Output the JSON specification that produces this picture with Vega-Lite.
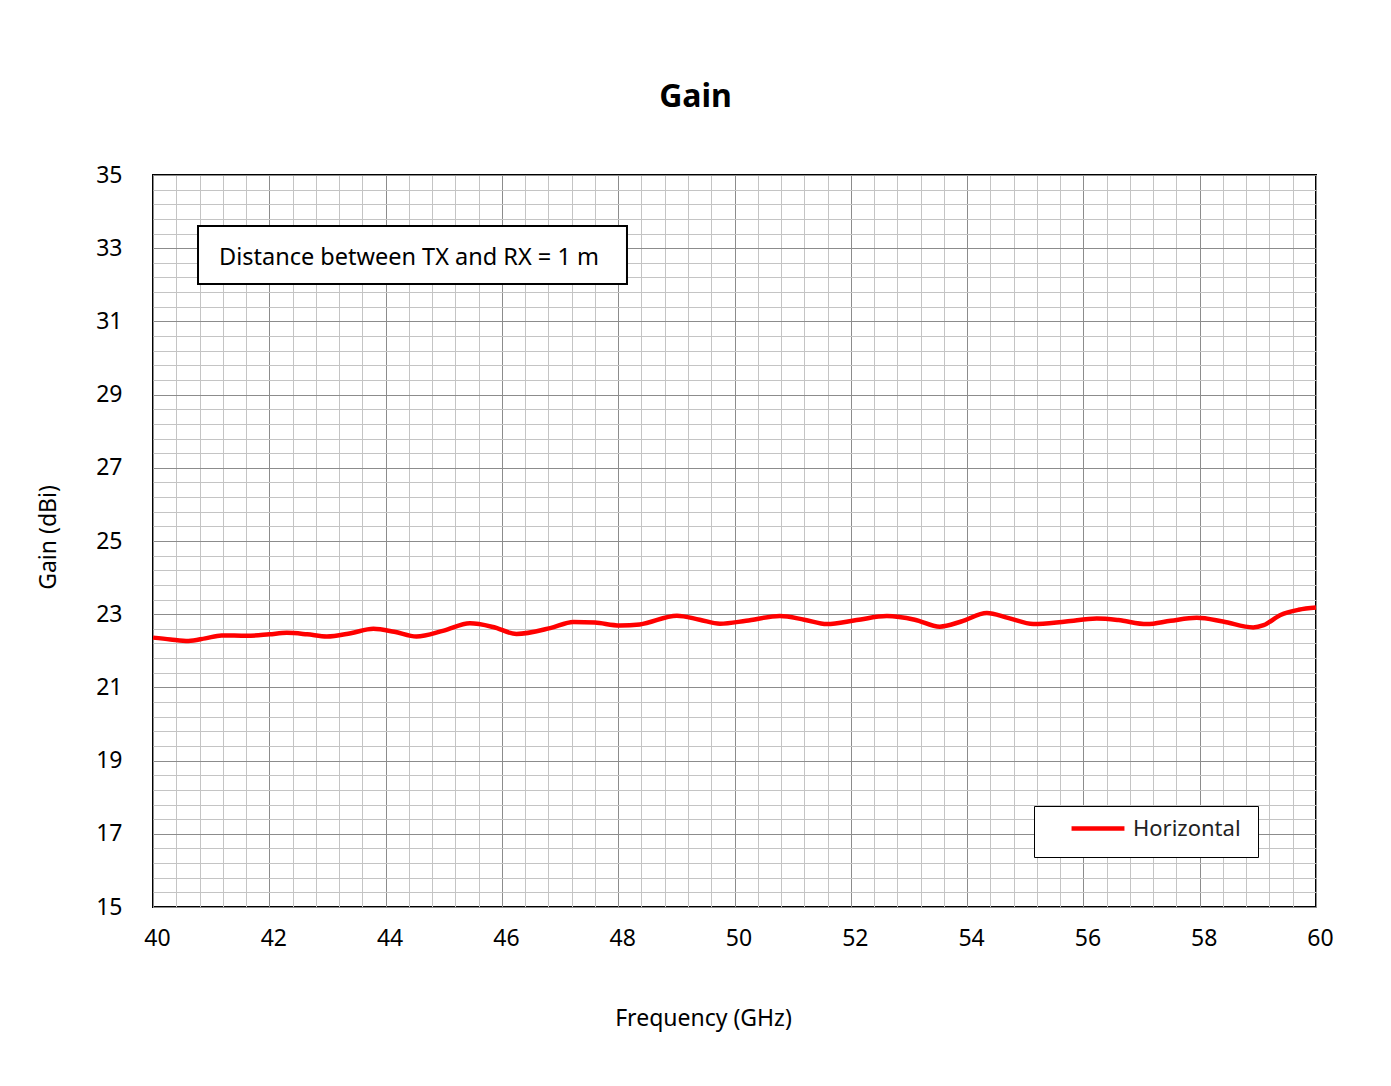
{
  "$schema": "https://vega.github.io/schema/vega-lite/v6.json",
  "width": 1163,
  "height": 732,
  "autosize": {"type": "none"},
  "padding": {"left": 153, "top": 175, "right": 75, "bottom": 179},
  "background": "white",
  "config": {
    "view": {"stroke": "black", "strokeWidth": 2},
    "font": "Noto Sans"
  },
  "title": {
    "text": "Gain",
    "fontSize": 32,
    "fontWeight": "bold",
    "font": "Noto Sans",
    "color": "black",
    "anchor": "middle",
    "baseline": "alphabetic",
    "offset": 25,
    "dx": -39
  },
  "datasets": {
    "gain": [
      {"f": 40.0, "gain": 22.36, "series": "Horizontal"},
      {"f": 40.3, "gain": 22.31, "series": "Horizontal"},
      {"f": 40.61, "gain": 22.27, "series": "Horizontal"},
      {"f": 40.9, "gain": 22.34, "series": "Horizontal"},
      {"f": 41.18, "gain": 22.42, "series": "Horizontal"},
      {"f": 41.61, "gain": 22.41, "series": "Horizontal"},
      {"f": 42.0, "gain": 22.45, "series": "Horizontal"},
      {"f": 42.3, "gain": 22.49, "series": "Horizontal"},
      {"f": 42.65, "gain": 22.45, "series": "Horizontal"},
      {"f": 42.99, "gain": 22.39, "series": "Horizontal"},
      {"f": 43.4, "gain": 22.48, "series": "Horizontal"},
      {"f": 43.79, "gain": 22.6, "series": "Horizontal"},
      {"f": 44.15, "gain": 22.52, "series": "Horizontal"},
      {"f": 44.53, "gain": 22.39, "series": "Horizontal"},
      {"f": 45.0, "gain": 22.55, "series": "Horizontal"},
      {"f": 45.45, "gain": 22.75, "series": "Horizontal"},
      {"f": 45.85, "gain": 22.65, "series": "Horizontal"},
      {"f": 46.25, "gain": 22.46, "series": "Horizontal"},
      {"f": 46.83, "gain": 22.62, "series": "Horizontal"},
      {"f": 47.23, "gain": 22.79, "series": "Horizontal"},
      {"f": 47.6, "gain": 22.77, "series": "Horizontal"},
      {"f": 48.03, "gain": 22.69, "series": "Horizontal"},
      {"f": 48.37, "gain": 22.72, "series": "Horizontal"},
      {"f": 49.01, "gain": 22.96, "series": "Horizontal"},
      {"f": 49.4, "gain": 22.85, "series": "Horizontal"},
      {"f": 49.75, "gain": 22.74, "series": "Horizontal"},
      {"f": 50.2, "gain": 22.82, "series": "Horizontal"},
      {"f": 50.78, "gain": 22.95, "series": "Horizontal"},
      {"f": 51.2, "gain": 22.85, "series": "Horizontal"},
      {"f": 51.59, "gain": 22.73, "series": "Horizontal"},
      {"f": 52.1, "gain": 22.84, "series": "Horizontal"},
      {"f": 52.62, "gain": 22.95, "series": "Horizontal"},
      {"f": 53.1, "gain": 22.85, "series": "Horizontal"},
      {"f": 53.53, "gain": 22.66, "series": "Horizontal"},
      {"f": 53.9, "gain": 22.8, "series": "Horizontal"},
      {"f": 54.34, "gain": 23.03, "series": "Horizontal"},
      {"f": 54.7, "gain": 22.9, "series": "Horizontal"},
      {"f": 55.14, "gain": 22.73, "series": "Horizontal"},
      {"f": 55.7, "gain": 22.8, "series": "Horizontal"},
      {"f": 56.23, "gain": 22.88, "series": "Horizontal"},
      {"f": 56.6, "gain": 22.84, "series": "Horizontal"},
      {"f": 57.09, "gain": 22.73, "series": "Horizontal"},
      {"f": 57.5, "gain": 22.82, "series": "Horizontal"},
      {"f": 57.95, "gain": 22.9, "series": "Horizontal"},
      {"f": 58.4, "gain": 22.8, "series": "Horizontal"},
      {"f": 58.92, "gain": 22.64, "series": "Horizontal"},
      {"f": 59.1, "gain": 22.7, "series": "Horizontal"},
      {"f": 59.39, "gain": 22.98, "series": "Horizontal"},
      {"f": 59.7, "gain": 23.12, "series": "Horizontal"},
      {"f": 60.0, "gain": 23.18, "series": "Horizontal"}
    ],
    "note": [
      {"note": "Distance between TX and RX = 1 m"}
    ]
  },
  "resolve": {"axis": {"x": "independent", "y": "independent"}},
  "layer": [
    {
      "data": {"name": "note"},
      "mark": {"type": "rect", "fill": "white", "stroke": "black", "strokeWidth": 2},
      "encoding": {
        "x": {
          "datum": 40.774,
          "type": "quantitative",
          "scale": {"domain": [40, 60], "nice": false, "zero": false},
          "axis": {
            "orient": "top",
            "title": null,
            "labels": false,
            "ticks": false,
            "domain": false,
            "grid": true,
            "gridColor": "#c4c4c4",
            "gridWidth": 1,
            "gridOpacity": 1,
            "values": [40, 40.4, 40.8, 41.2, 41.6, 42, 42.4, 42.8, 43.2, 43.6, 44, 44.4, 44.8, 45.2, 45.6, 46, 46.4, 46.8, 47.2, 47.6, 48, 48.4, 48.8, 49.2, 49.6, 50, 50.4, 50.8, 51.2, 51.6, 52, 52.4, 52.8, 53.2, 53.6, 54, 54.4, 54.8, 55.2, 55.6, 56, 56.4, 56.8, 57.2, 57.6, 58, 58.4, 58.8, 59.2, 59.6, 60]
          }
        },
        "x2": {"datum": 48.151},
        "y": {
          "datum": 33.607,
          "type": "quantitative",
          "scale": {"domain": [15, 35], "nice": false, "zero": false},
          "axis": {
            "orient": "right",
            "title": null,
            "labels": false,
            "ticks": false,
            "domain": false,
            "grid": true,
            "gridColor": "#c4c4c4",
            "gridWidth": 1,
            "gridOpacity": 1,
            "values": [15, 15.4, 15.8, 16.2, 16.6, 17, 17.4, 17.8, 18.2, 18.6, 19, 19.4, 19.8, 20.2, 20.6, 21, 21.4, 21.8, 22.2, 22.6, 23, 23.4, 23.8, 24.2, 24.6, 25, 25.4, 25.8, 26.2, 26.6, 27, 27.4, 27.8, 28.2, 28.6, 29, 29.4, 29.8, 30.2, 30.6, 31, 31.4, 31.8, 32.2, 32.6, 33, 33.4, 33.8, 34.2, 34.6, 35]
          }
        },
        "y2": {"datum": 32.022}
      }
    },
    {
      "data": {"name": "note"},
      "mark": {"type": "text", "align": "left", "baseline": "middle", "fontSize": 23.5, "font": "Noto Sans", "color": "black"},
      "encoding": {
        "x": {"datum": 41.135, "type": "quantitative", "axis": null},
        "y": {"datum": 32.74, "type": "quantitative", "axis": null},
        "text": {"field": "note"}
      }
    },
    {
      "data": {"name": "gain"},
      "mark": {"type": "line", "strokeWidth": 4.5, "interpolate": "monotone"},
      "encoding": {
        "x": {
          "field": "f",
          "type": "quantitative",
          "scale": {"domain": [40, 60], "nice": false, "zero": false},
          "axis": {
            "orient": "bottom",
            "title": "Frequency (GHz)",
            "titleX": 550,
            "values": [40, 42, 44, 46, 48, 50, 52, 54, 56, 58, 60],
            "grid": true,
            "gridColor": "#8c8c8c",
            "gridWidth": 1,
            "gridOpacity": 1,
            "domain": false,
            "ticks": false,
            "labelFlush": false,
            "labelOffset": 4,
            "labelPadding": 20,
            "labelFontSize": 23,
            "labelFont": "Noto Sans",
            "labelColor": "black",
            "titleFontSize": 23,
            "titleFont": "Noto Sans",
            "titleFontWeight": "normal",
            "titleColor": "black",
            "titlePadding": 57
          }
        },
        "y": {
          "field": "gain",
          "type": "quantitative",
          "scale": {"domain": [15, 35], "nice": false, "zero": false},
          "axis": {
            "orient": "left",
            "title": "Gain (dBi)",
            "titleY": 362,
            "values": [15, 17, 19, 21, 23, 25, 27, 29, 31, 33, 35],
            "grid": true,
            "gridColor": "#8c8c8c",
            "gridWidth": 1,
            "gridOpacity": 1,
            "domain": false,
            "ticks": false,
            "labelPadding": 31,
            "labelFontSize": 23,
            "labelFont": "Noto Sans",
            "labelColor": "black",
            "titleFontSize": 23,
            "titleFont": "Noto Sans",
            "titleFontWeight": "normal",
            "titleColor": "black",
            "titlePadding": 35
          }
        },
        "color": {
          "field": "series",
          "type": "nominal",
          "scale": {"domain": ["Horizontal"], "range": ["#ff0000"]},
          "legend": {
            "orient": "none",
            "legendX": 881,
            "legendY": 631,
            "title": null,
            "strokeColor": "black",
            "fillColor": "white",
            "padding": 17,
            "clipHeight": 11,
            "symbolType": "stroke",
            "symbolSize": 2800,
            "symbolStrokeWidth": 4.5,
            "symbolOffset": 18,
            "labelOffset": 6,
            "labelFontSize": 22,
            "labelFont": "Noto Sans",
            "labelColor": "#222222"
          }
        }
      }
    }
  ]
}
